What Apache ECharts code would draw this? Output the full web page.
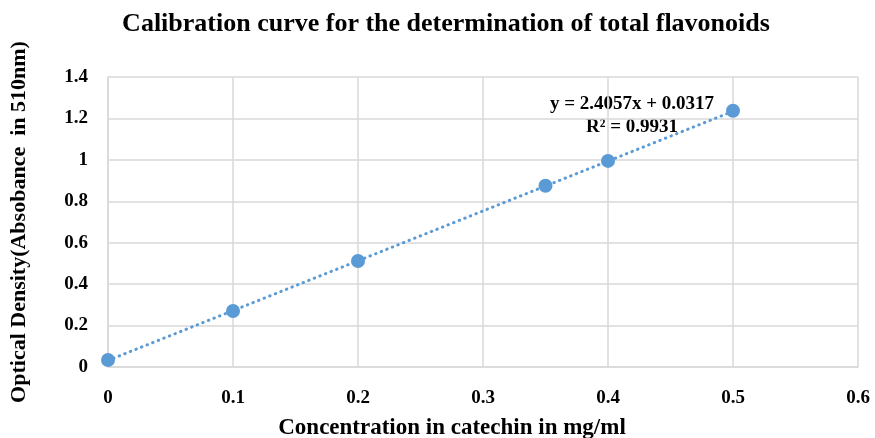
<!DOCTYPE html>
<html>
<head>
<meta charset="utf-8">
<script src="https://cdn.jsdelivr.net/npm/echarts@6/dist/echarts.min.js"></script>
<style>
  html, body { margin: 0; padding: 0; background: #fff; }
  #chart { width: 875px; height: 438px; }
</style>
</head>
<body>
<div id="chart"></div>
<script>
// data
var concentration = [0, 0.1, 0.2, 0.35, 0.4, 0.5];
var absorbance = [0.034, 0.27, 0.512, 0.875, 0.995, 1.237];
var slope = 2.4057;
var intercept = 0.0317;
var trendX = [0, 0.5];

var chart = echarts.init(document.getElementById('chart'));

var points = concentration.map(function (x, i) { return [x, absorbance[i]]; });
var trend = trendX.map(function (x) { return [x, slope * x + intercept]; });

var serif = '"Liberation Serif", "Times New Roman", serif';

var option = {
  backgroundColor: '#fff',
  animation: false,
  title: {
    text: 'Calibration curve for the determination of total flavonoids',
    left: 441,
    textAlign: 'center',
    top: 6,
    textStyle: { fontFamily: serif, fontWeight: 'bold', fontSize: 26, color: '#000' }
  },
  grid: { left: 108, right: 17, top: 77, bottom: 71, outerBoundsMode: 'none' },
  xAxis: {
    type: 'value',
    min: 0, max: 0.6, interval: 0.1,
    name: 'Concentration in catechin in mg/ml',
    nameLocation: 'middle',
    nameGap: 50,
    nameTextStyle: { fontFamily: serif, fontWeight: 'bold', fontSize: 23, color: '#000', padding: [0, 62, 0, 0] },
    axisLine: { lineStyle: { color: '#d9d9d9', width: 1.5 } },
    axisTick: { show: false },
    axisLabel: { margin: 22, fontFamily: serif, fontWeight: 'bold', fontSize: 19, color: '#000' },
    splitLine: { lineStyle: { color: '#d9d9d9', width: 1.5 } }
  },
  yAxis: {
    type: 'value',
    min: 0, max: 1.4, interval: 0.2,
    name: 'Optical Density(Absobance  in 510nm)',
    nameLocation: 'middle',
    nameGap: 78,
    nameTextStyle: { fontFamily: serif, fontWeight: 'bold', fontSize: 22, color: '#000' },
    axisLine: { show: true, lineStyle: { color: '#d9d9d9', width: 1.5 } },
    axisTick: { show: false },
    axisLabel: { margin: 20, fontFamily: serif, fontWeight: 'bold', fontSize: 19, color: '#000' },
    splitLine: { lineStyle: { color: '#d9d9d9', width: 1.5 } }
  },
  series: [
    {
      type: 'line',
      data: trend,
      showSymbol: false,
      lineStyle: { color: '#5b9bd5', width: 3, type: [0.5, 5.5], cap: 'round' },
      z: 2
    },
    {
      type: 'scatter',
      data: points,
      symbolSize: 14,
      itemStyle: { color: '#5b9bd5', opacity: 1 },
      z: 3
    }
  ],
  graphic: [
    {
      type: 'text',
      x: 632, y: 93,
      style: {
        text: 'y = 2.4057x + 0.0317\nR² = 0.9931',
        font: 'bold 19px ' + serif,
        fill: '#000',
        lineHeight: 23,
        align: 'center'
      }
    }
  ]
};

chart.setOption(option);
</script>
</body>
</html>
